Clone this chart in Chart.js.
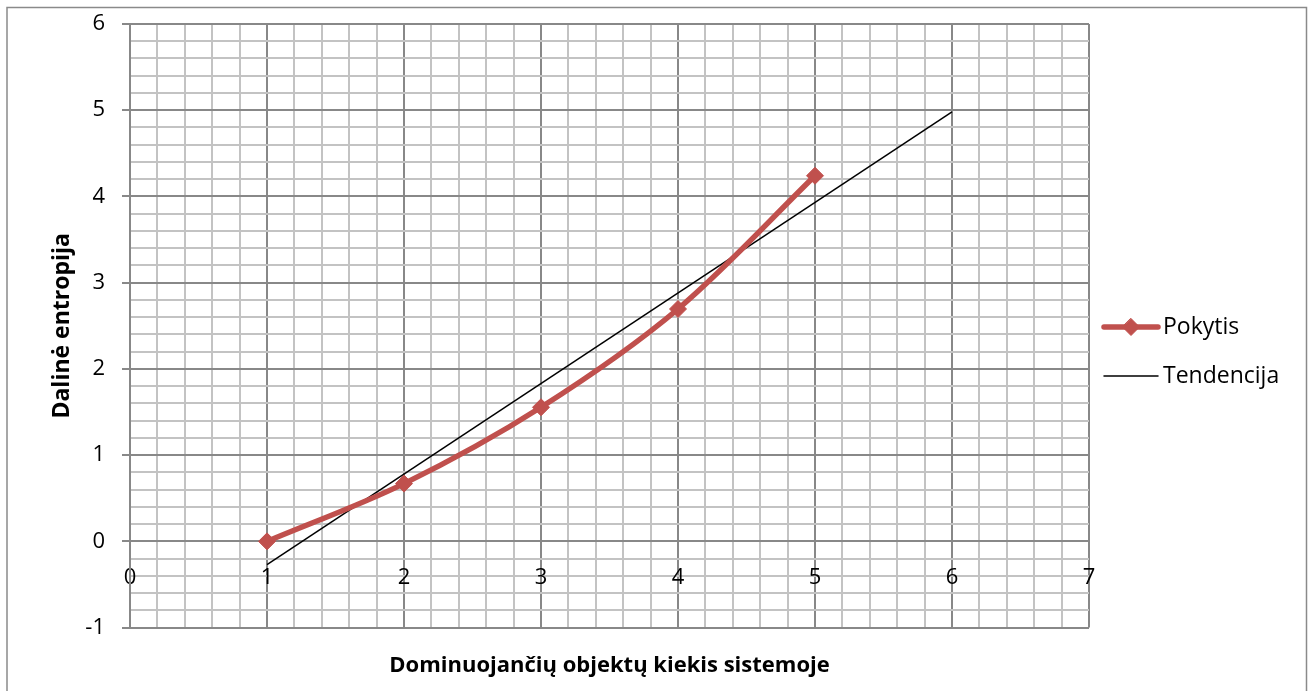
<!DOCTYPE html>
<html>
<head>
<meta charset="utf-8">
<script src="https://cdn.jsdelivr.net/npm/chart.js@4.4.1/dist/chart.umd.min.js"></script>
<style>
  html, body { margin: 0; padding: 0; background: #ffffff; }
  #wrap { width: 1308px; height: 691px; position: relative; }
  canvas { display: block; }
</style>
</head>
<body>
<div id="wrap"><canvas id="chart" width="1308" height="691"></canvas></div>
<script>
// Measured series: number of dominating objects vs. partial entropy
const objectCounts = [1, 2, 3, 4, 5];
const partialEntropy = [0, 0.67, 1.555, 2.695, 4.24];

// Trend line end points
const trendX = [1, 6];
const trendY = [-0.27, 4.98];

// Axis ranges and grid spacing
const xRange = [0, 7];
const yRange = [-1, 6];
const minorStep = 0.2;

const seriesNames = ['Pokytis', 'Tendencija'];
const xTitle = 'Dominuojančių objektų kiekis sistemoje';
const yTitle = 'Dalinė entropija';

const FONT = "'Open Sans', 'Noto Sans', sans-serif";
const MAJOR = '#888888';
const MINOR = '#c3c3c3';
const RED = '#c0504d';

const isMajor = v => Math.abs(v - Math.round(v)) < 1e-6;
const intLabel = v => (isMajor(v) ? String(Math.round(v)) : '');

const toPoints = (xs, ys) => xs.map((x, i) => ({ x: x, y: ys[i] }));

// Outer frame of the chart object
const framePlugin = {
  id: 'frame',
  beforeDraw(chart) {
    const { ctx } = chart;
    ctx.save();
    ctx.strokeStyle = '#8a8a8a';
    ctx.lineWidth = 1.5;
    ctx.beginPath();
    ctx.moveTo(7, 691);
    ctx.lineTo(7, 7.5);
    ctx.lineTo(1306.5, 7.5);
    ctx.lineTo(1306.5, 691);
    ctx.stroke();
    ctx.restore();
  }
};

// Legend on the right: line sample with marker, then the series name
const sideLegend = {
  id: 'sideLegend',
  afterDraw(chart) {
    const { ctx, chartArea } = chart;
    const x0 = chartArea.right + 15;
    const x1 = chartArea.right + 69;
    const tx = chartArea.right + 74;
    const rows = [chartArea.top + 303, chartArea.top + 352];
    ctx.save();
    chart.data.datasets.forEach((ds, i) => {
      const y = rows[i];
      ctx.strokeStyle = ds.borderColor;
      ctx.lineWidth = ds.borderWidth;
      ctx.lineCap = 'round';
      ctx.beginPath();
      ctx.moveTo(x0, y);
      ctx.lineTo(x1, y);
      ctx.stroke();
      if (ds.pointRadius > 0) {
        const r = ds.pointRadius;
        const cx = (x0 + x1) / 2;
        ctx.fillStyle = ds.pointBackgroundColor;
        ctx.strokeStyle = ds.pointBorderColor;
        ctx.lineWidth = 1;
        ctx.beginPath();
        ctx.moveTo(cx, y - r);
        ctx.lineTo(cx + r, y);
        ctx.lineTo(cx, y + r);
        ctx.lineTo(cx - r, y);
        ctx.closePath();
        ctx.fill();
        ctx.stroke();
      }
      ctx.fillStyle = '#000000';
      ctx.font = '23px ' + FONT;
      ctx.textBaseline = 'middle';
      ctx.textAlign = 'left';
      ctx.fillText(ds.label, tx, y);
    });
    ctx.restore();
  }
};

new Chart(document.getElementById('chart'), {
  type: 'scatter',
  data: {
    datasets: [
      {
        label: seriesNames[0],
        data: toPoints(objectCounts, partialEntropy),
        showLine: true,
        borderColor: RED,
        backgroundColor: RED,
        borderWidth: 5.5,
        tension: 0.33,
        pointStyle: 'rectRot',
        pointRadius: 8.5,
        pointHoverRadius: 8.5,
        pointBackgroundColor: RED,
        pointBorderColor: RED,
        pointBorderWidth: 1
      },
      {
        label: seriesNames[1],
        data: toPoints(trendX, trendY),
        showLine: true,
        borderColor: '#000000',
        backgroundColor: '#000000',
        borderWidth: 1.5,
        tension: 0,
        pointRadius: 0,
        pointHoverRadius: 0
      }
    ]
  },
  options: {
    responsive: false,
    animation: false,
    devicePixelRatio: 1,
    layout: { padding: { left: 0, top: 24, right: 219, bottom: 0 } },
    plugins: {
      legend: { display: false },
      tooltip: { enabled: false },
      title: {
        display: true,
        position: 'bottom',
        fullSize: false,
        text: xTitle,
        color: '#000000',
        font: { family: FONT, size: 22, weight: 'bold', lineHeight: 1.2 },
        padding: { top: 25, bottom: 12 }
      }
    },
    scales: {
      x: {
        type: 'linear',
        position: { y: 0 },
        min: xRange[0],
        max: xRange[1],
        grid: {
          color: c => (isMajor(c.tick.value) ? MAJOR : MINOR),
          lineWidth: 2,
          drawTicks: false
        },
        border: { display: true, color: MAJOR, width: 2 },
        ticks: {
          stepSize: minorStep,
          autoSkip: false,
          maxRotation: 0,
          padding: 23,
          color: '#000000',
          font: { family: FONT, size: 22 },
          callback: v => intLabel(v)
        }
      },
      y: {
        type: 'linear',
        position: 'left',
        min: yRange[0],
        max: yRange[1],
        afterFit: s => {
          s.width = 130;
          s.paddingTop = 0;
          s.paddingBottom = 0;
        },
        grid: {
          color: c => (isMajor(c.tick.value) ? MAJOR : MINOR),
          tickColor: c => (isMajor(c.tick.value) ? MAJOR : 'rgba(0,0,0,0)'),
          lineWidth: 2,
          tickLength: 8
        },
        border: { display: true, color: MAJOR, width: 2 },
        ticks: {
          stepSize: minorStep,
          autoSkip: false,
          padding: 17,
          color: '#000000',
          font: { family: FONT, size: 22 },
          callback: v => intLabel(v)
        },
        title: {
          display: true,
          text: yTitle,
          color: '#000000',
          font: { family: FONT, size: 23, weight: 'bold', lineHeight: 1.2 },
          padding: { top: 49, bottom: 0 }
        }
      }
    }
  },
  plugins: [framePlugin, sideLegend]
});
</script>
</body>
</html>
